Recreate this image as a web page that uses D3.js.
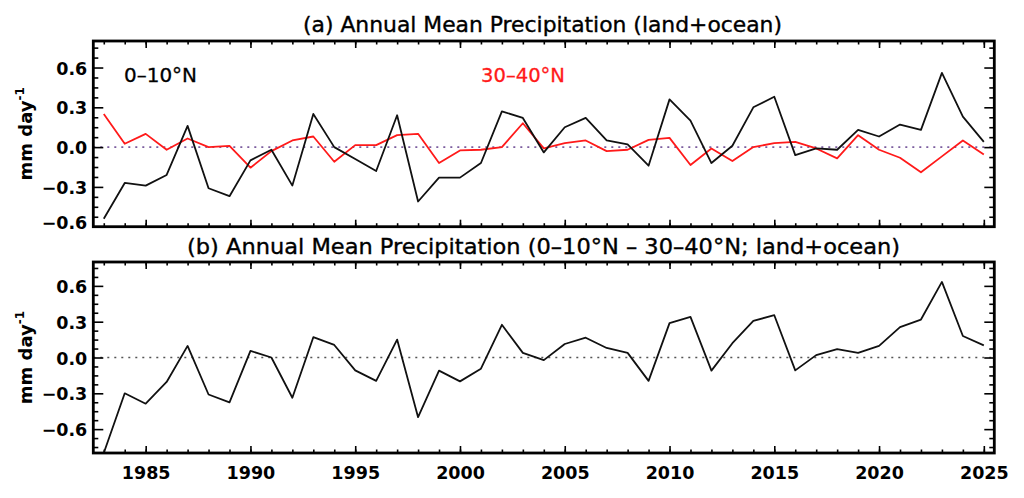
<!DOCTYPE html>
<html>
<head>
<meta charset="utf-8">
<script src="https://cdn.jsdelivr.net/npm/d3@7"></script>
<style>
  html, body { margin: 0; padding: 0; background: #fff; }
  svg { display: block; }
</style>
</head>
<body>
<svg id="chart" width="1024" height="498"></svg>
<script>
// ---------------- data ----------------
const years = [1983,1984,1985,1986,1987,1988,1989,1990,1991,1992,1993,1994,1995,1996,1997,1998,1999,2000,
  2001,2002,2003,2004,2005,2006,2007,2008,2009,2010,2011,2012,2013,2014,2015,2016,2017,2018,2019,2020,
  2021,2022,2023,2024,2025];

// 0-10°N anomaly (mm/day)
const eq = [-0.54,-0.27,-0.29,-0.21,0.16,-0.31,-0.37,-0.10,-0.02,-0.29,0.25,0.00,-0.09,-0.18,0.24,-0.41,
  -0.23,-0.23,-0.12,0.27,0.22,-0.04,0.15,0.22,0.05,0.02,-0.14,0.36,0.20,-0.12,0.01,0.30,0.38,-0.06,
  -0.01,-0.02,0.13,0.08,0.17,0.13,0.56,0.23,0.04];

// 30-40°N anomaly (mm/day)
const mid = [0.25,0.025,0.10,-0.02,0.065,0.00,0.01,-0.155,-0.03,0.05,0.08,-0.11,0.015,0.015,0.09,0.10,
  -0.12,-0.025,-0.02,0.00,0.18,-0.01,0.03,0.05,-0.03,-0.02,0.055,0.07,-0.135,-0.01,-0.105,0.00,0.03,0.04,
  -0.01,-0.085,0.09,-0.02,-0.08,-0.19,-0.07,0.05,-0.055];

// difference (0-10°N minus 30-40°N)
const diff = [-0.80,-0.30,-0.387,-0.205,0.097,-0.31,-0.376,0.055,0.0,-0.337,0.17,0.105,-0.108,-0.196,0.15,
  -0.50,-0.11,-0.20,-0.094,0.274,0.039,-0.022,0.113,0.166,0.08,0.039,-0.196,0.288,0.34,-0.11,0.12,0.307,
  0.354,-0.108,0.02,0.07,0.039,0.097,0.254,0.318,0.633,0.18,0.102];

const xMajorTicks = [1985,1990,1995,2000,2005,2010,2015,2020,2025];
const yMajorTicks = [-0.6,-0.3,0.0,0.3,0.6];
const yMinorTopTicks = [-0.525,-0.45,-0.375,-0.225,-0.15,-0.075,0.075,0.15,0.225,0.375,0.45,0.525,0.675,0.75];
const yMinorBotTicks = [-0.75,-0.675,-0.525,-0.45,-0.375,-0.225,-0.15,-0.075,0.075,0.15,0.225,0.375,0.45,0.525,0.675,0.75];

const titleA = "(a) Annual Mean Precipitation (land+ocean)";
const titleB = "(b) Annual Mean Precipitation (0\u201310\u00B0N \u2013 30\u201340\u00B0N; land+ocean)";
const legendEq = "0\u201310\u00B0N";
const legendMid = "30\u201340\u00B0N";

// ---------------- layout ----------------
const svg = d3.select("#chart");
svg.append("rect").attr("width",1024).attr("height",498).attr("fill","#fff");

const L = 93.3, R = 994.3;
const panels = [
  { top: 41, bottom: 226.7, domain: [-0.6, 0.8], minor: yMinorTopTicks, zeroColor: "#7b5c9e", labels: false },
  { top: 262, bottom: 453, domain: [-0.8, 0.8], minor: yMinorBotTicks, zeroColor: "#555", labels: true }
];

const x = d3.scaleLinear().domain([1982.5, 2025.5]).range([L, R]);

const fontTick = "DejaVu Sans";

panels.forEach((p, i) => {
  p.y = d3.scaleLinear().domain(p.domain).range([p.bottom, p.top]);
  const g = svg.append("g");

  const cid = "clip" + i;
  svg.append("clipPath").attr("id", cid).append("rect")
    .attr("x", L).attr("y", p.top).attr("width", R - L).attr("height", p.bottom - p.top);

  g.append("line")
    .attr("x1", L).attr("x2", R).attr("y1", p.y(0)).attr("y2", p.y(0))
    .attr("stroke", p.zeroColor).attr("stroke-width", 1.6).attr("stroke-dasharray", "2 5");

  const styleAxis = sel => {
    sel.select(".domain").remove();
    sel.selectAll(".tick line").attr("stroke", "#000").attr("stroke-width", 1.6);
  };
  const yl = g.append("g").attr("transform", `translate(${L},0)`)
    .call(d3.axisLeft(p.y).tickValues(yMajorTicks).tickSize(-10).tickPadding(6)
      .tickFormat(d3.format(".1f")))
    .call(styleAxis);
  yl.selectAll("text").attr("font-family", fontTick).attr("font-weight", "bold")
      .attr("font-size", 17.5).attr("fill", "#000")
      .text(d => d3.format(".1f")(d).replace("-", "\u2212"))
      .attr("dy", d => (i === 0 && d === -0.6) ? "0.12em" : "0.38em");
  g.append("g").attr("transform", `translate(${L},0)`)
    .call(d3.axisLeft(p.y).tickValues(p.minor).tickSize(-5).tickFormat(""))
    .call(styleAxis);
  g.append("g").attr("transform", `translate(${R},0)`)
    .call(d3.axisRight(p.y).tickValues(yMajorTicks).tickSize(-10).tickFormat(""))
    .call(styleAxis);
  g.append("g").attr("transform", `translate(${R},0)`)
    .call(d3.axisRight(p.y).tickValues(p.minor).tickSize(-5).tickFormat(""))
    .call(styleAxis);
  g.append("g").attr("transform", `translate(0,${p.top})`)
    .call(d3.axisTop(x).tickValues(xMajorTicks).tickSize(-7).tickFormat(""))
    .call(styleAxis);
  g.append("g").attr("transform", `translate(0,${p.top})`)
    .call(d3.axisTop(x).tickValues(years).tickSize(-3.5).tickFormat(""))
    .call(styleAxis);
  const bx = g.append("g").attr("transform", `translate(0,${p.bottom})`)
    .call(d3.axisBottom(x).tickValues(xMajorTicks).tickSize(-7).tickPadding(14)
      .tickFormat(p.labels ? d3.format("d") : ""))
    .call(styleAxis);
  bx.selectAll("text").attr("font-family", fontTick).attr("font-weight", "bold")
    .attr("font-size", 17.5).attr("fill", "#000");
  g.append("g").attr("transform", `translate(0,${p.bottom})`)
    .call(d3.axisBottom(x).tickValues(years).tickSize(-3.5).tickFormat(""))
    .call(styleAxis);

  const cy = (p.top + p.bottom) / 2;
  const lab = g.append("text")
    .attr("transform", `translate(32,${cy}) rotate(-90)`)
    .attr("text-anchor", "middle")
    .attr("font-family", "DejaVu Sans").attr("font-weight", "bold").attr("font-size", 18)
    .attr("fill", "#000");
  lab.append("tspan").text("mm day");
  lab.append("tspan").attr("dy", -8).attr("font-size", 12).text("-1");

  p.g = g; p.cid = cid;
});

panels.forEach(p => {
  svg.append("rect").attr("x", L).attr("y", p.top).attr("width", R - L).attr("height", p.bottom - p.top)
    .attr("fill", "none").attr("stroke", "#000").attr("stroke-width", 2.8);
});

const lineA = d3.line().x((d, i) => x(years[i])).y(d => panels[0].y(d));
const lineB = d3.line().x((d, i) => x(years[i])).y(d => panels[1].y(d));

panels[0].g.append("path").datum(mid).attr("d", lineA).attr("clip-path", `url(#${panels[0].cid})`)
  .attr("fill", "none").attr("stroke", "#ff1a1a").attr("stroke-width", 1.8).attr("stroke-linejoin", "round");
panels[0].g.append("path").datum(eq).attr("d", lineA).attr("clip-path", `url(#${panels[0].cid})`)
  .attr("fill", "none").attr("stroke", "#111").attr("stroke-width", 1.8).attr("stroke-linejoin", "round");
panels[1].g.append("path").datum(diff).attr("d", lineB).attr("clip-path", `url(#${panels[1].cid})`)
  .attr("fill", "none").attr("stroke", "#111").attr("stroke-width", 1.8).attr("stroke-linejoin", "round");

const titleStyle = s => s.attr("font-family", "DejaVu Sans").attr("font-size", 20.5).attr("fill", "#000")
  .attr("stroke", "#000").attr("stroke-width", 0.35).attr("lengthAdjust", "spacingAndGlyphs");
svg.append("text").attr("x", 303).attr("y", 32).text(titleA).call(titleStyle).attr("textLength", 479);
svg.append("text").attr("x", 187).attr("y", 254).text(titleB).call(titleStyle).attr("textLength", 713);

svg.append("text").attr("x", 124).attr("y", 82).text(legendEq)
  .attr("font-family", "DejaVu Sans").attr("font-size", 19.5).attr("fill", "#000")
  .attr("stroke", "#000").attr("stroke-width", 0.3)
  .attr("textLength", 73).attr("lengthAdjust", "spacingAndGlyphs");
svg.append("text").attr("x", 481).attr("y", 82).text(legendMid)
  .attr("font-family", "DejaVu Sans").attr("font-size", 19.5).attr("fill", "#ff1a1a")
  .attr("stroke", "#ff1a1a").attr("stroke-width", 0.3)
  .attr("textLength", 84).attr("lengthAdjust", "spacingAndGlyphs");
</script>
</body>
</html>
